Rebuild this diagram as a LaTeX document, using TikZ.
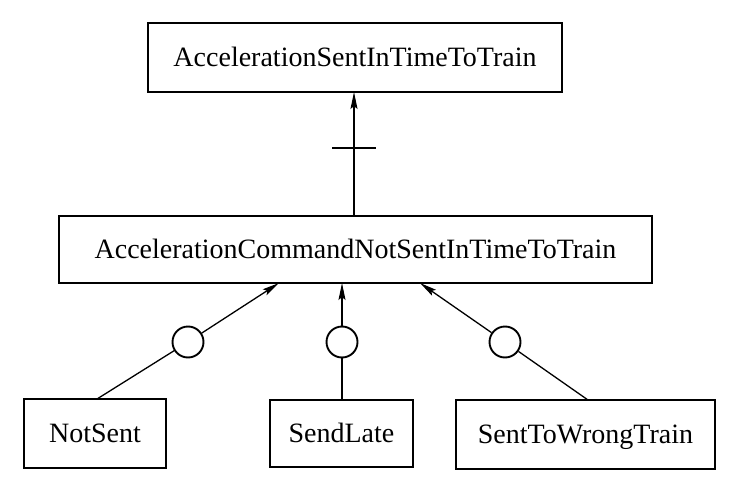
\documentclass[tikz,border=0pt]{standalone}
\usepackage{fontspec}
\setmainfont{Liberation Serif}
\usetikzlibrary{arrows.meta}
\begin{document}
\begin{tikzpicture}[x=1pt,y=-1pt,
  box/.style={draw, line width=1.7pt, inner sep=0pt, font=\fontsize{28}{30}\selectfont,
    text height=18.5pt, text depth=0pt},
  conn/.style={line width=1.3pt},
  arr/.style={conn, -{Stealth[length=17pt,width=7pt,inset=3pt]}},
  ring/.style={draw, circle, line width=1.9pt, minimum size=31pt, inner sep=0pt}]
\useasboundingbox[fill=white] (0,0) rectangle (738,484);
% boxes
\node[box, minimum width=414pt, minimum height=69pt] (top) at (355,57.5) {AccelerationSentInTimeToTrain};
\node[box, minimum width=593pt, minimum height=67pt] (mid) at (355.5,249.5) {AccelerationCommandNotSentInTimeToTrain};
\node[box, minimum width=142pt, minimum height=69pt] (ns) at (95,433.5) {NotSent};
\node[box, minimum width=143pt, minimum height=67pt] (sl) at (341.5,433.5) {SendLate};
\node[box, minimum width=259pt, minimum height=69pt] (sw) at (585.5,434.5) {SentToWrongTrain};
% circles
\node[ring] (c1) at (188,342) {};
\node[ring] (c2) at (342,342) {};
\node[ring] (c3) at (505,342) {};
% attachment points
\coordinate (topb) at (354,92);
\coordinate (midt) at (354,216);
\coordinate (m1) at (279,283);
\coordinate (m2) at (342,283);
\coordinate (m3) at (420,283);
\coordinate (nst) at (97,399);
\coordinate (slt) at (342,400);
\coordinate (swt) at (588,400);
\coordinate (tk) at (354,148);
% connectors
\draw[arr] (midt) -- (topb);
\draw[line width=1.7pt] ([xshift=-22pt]tk) -- ([xshift=22pt]tk);
\draw[conn] (nst) -- (c1);
\draw[arr] (c1) -- (m1);
\draw[conn] (slt) -- (c2);
\draw[arr] (c2) -- (m2);
\draw[conn] (swt) -- (c3);
\draw[arr] (c3) -- (m3);
\end{tikzpicture}
\end{document}
